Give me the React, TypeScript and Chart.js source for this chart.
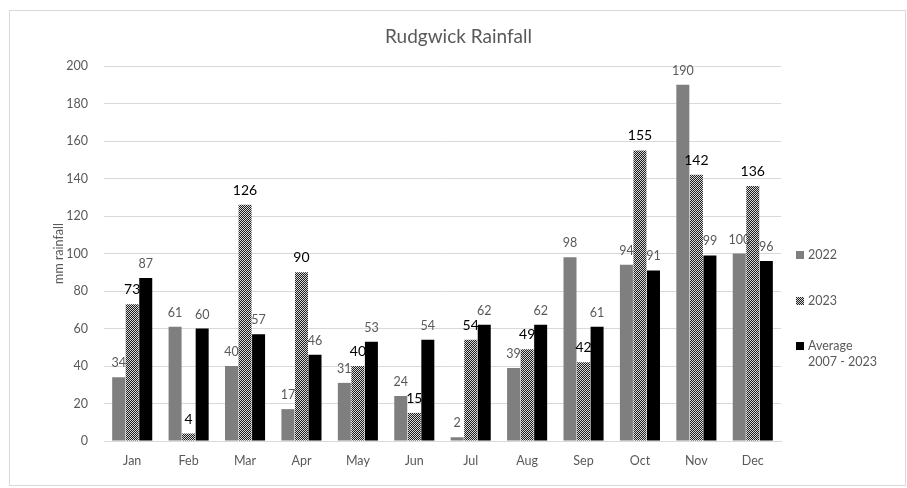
import React, { useEffect, useRef } from "react";
import { Chart, registerables } from "chart.js";

Chart.register(...registerables);

const months = ["Jan", "Feb", "Mar", "Apr", "May", "Jun", "Jul", "Aug", "Sep", "Oct", "Nov", "Dec"];
const rain2022 = [34, 61, 40, 17, 31, 24, 2, 39, 98, 94, 190, 100];
const rain2023 = [73, 4, 126, 90, 40, 15, 54, 49, 42, 155, 142, 136];
const rainAvg = [87, 60, 57, 46, 53, 54, 62, 62, 61, 91, 99, 96];
const seriesLabels = ["2022", "2023", "Average 2007 - 2023"];
const legendLines = [["2022"], ["2023"], ["Average", "2007 - 2023"]];
const chartTitle = "Rudgwick Rainfall";

const FONT = "Lato, 'Open Sans', sans-serif";
const GRAY_TEXT = "#595959";

function makePattern(): CanvasPattern | string {
  const c = document.createElement("canvas");
  c.width = 2;
  c.height = 2;
  const ctx = c.getContext("2d");
  if (!ctx) return "#777";
  ctx.fillStyle = "#d8d8d8";
  ctx.fillRect(0, 0, 2, 2);
  ctx.fillStyle = "#1e1e1e";
  ctx.fillRect(0, 0, 1, 1);
  ctx.fillRect(1, 1, 1, 1);
  const p = ctx.createPattern(c, "repeat");
  return p || "#777";
}

const titlePlugin = {
  id: "centeredTitle",
  afterDraw(chart: any) {
    const ctx = chart.ctx;
    ctx.save();
    ctx.font = `19px ${FONT}`;
    ctx.fillStyle = GRAY_TEXT;
    ctx.textAlign = "center";
    ctx.textBaseline = "middle";
    ctx.fillText(chartTitle, chart.width / 2 + 1, 26);
    ctx.restore();
  },
};

const labelPlugin = {
  id: "barLabels",
  afterDatasetsDraw(chart: any) {
    const ctx = chart.ctx;
    ctx.save();
    ctx.textAlign = "center";
    ctx.textBaseline = "alphabetic";
    chart.data.datasets.forEach((ds: any, di: number) => {
      const meta = chart.getDatasetMeta(di);
      if (di === 1) {
        ctx.font = `14px ${FONT}`;
        ctx.fillStyle = "#000000";
      } else {
        ctx.font = `12.5px ${FONT}`;
        ctx.fillStyle = GRAY_TEXT;
      }
      meta.data.forEach((bar: any, i: number) => {
        ctx.fillText(String(ds.data[i]), bar.x, bar.y - 10);
      });
    });
    ctx.restore();
  },
};

const legendPlugin = {
  id: "sideLegend",
  afterDraw(chart: any) {
    const ctx = chart.ctx;
    const x = chart.chartArea.right + 15;
    const ys = [244, 290, 335];
    ctx.save();
    ctx.font = `12.5px ${FONT}`;
    ctx.textBaseline = "middle";
    ctx.textAlign = "left";
    chart.data.datasets.forEach((ds: any, di: number) => {
      const y = ys[di];
      ctx.fillStyle = ds.backgroundColor;
      ctx.fillRect(x, y - 4, 8, 8);
      ctx.fillStyle = GRAY_TEXT;
      legendLines[di].forEach((line, li) => {
        ctx.fillText(line, x + 12, y + li * 16);
      });
    });
    ctx.restore();
  },
};

export default function App() {
  const ref = useRef<HTMLCanvasElement | null>(null);

  useEffect(() => {
    document.body.style.margin = "0";
    if (!ref.current) return;
    const pattern = makePattern();
    const chart = new Chart(ref.current, {
      type: "bar",
      data: {
        labels: months,
        datasets: [
          { label: seriesLabels[0], data: rain2022, backgroundColor: "#7f7f7f", barPercentage: 0.96, categoryPercentage: 0.72 },
          { label: seriesLabels[1], data: rain2023, backgroundColor: pattern as any, barPercentage: 0.96, categoryPercentage: 0.72 },
          { label: seriesLabels[2], data: rainAvg, backgroundColor: "#000000", barPercentage: 0.96, categoryPercentage: 0.72 },
        ],
      },
      options: {
        animation: false,
        responsive: false,
        devicePixelRatio: 1,
        layout: { padding: { left: 0, right: 124, top: 55, bottom: 0 } },
        plugins: {
          legend: { display: false },
          tooltip: { enabled: false },
          title: { display: false },
        },
        scales: {
          x: {
            grid: { display: false, drawTicks: false },
            border: { color: "#d9d9d9" },
            ticks: { color: GRAY_TEXT, font: { family: FONT, size: 12.5 }, padding: 12 },
            afterFit(scale: any) {
              scale.height = 44;
            },
          },
          y: {
            min: 0,
            max: 200,
            ticks: { stepSize: 20, color: GRAY_TEXT, font: { family: FONT, size: 12.5 }, padding: 16 },
            grid: { color: "#d9d9d9", drawTicks: false },
            border: { display: false },
            title: {
              display: true,
              text: "mm rainfall",
              color: GRAY_TEXT,
              font: { family: FONT, size: 12.5 },
              padding: { top: 41, bottom: 0 },
            },
            afterFit(scale: any) {
              scale.width = 94;
            },
          },
        },
      },
      plugins: [labelPlugin, legendPlugin, titlePlugin],
    });
    return () => chart.destroy();
  }, []);

  return (
    <div style={{ position: "relative", width: 907, height: 488, background: "#fff", overflow: "hidden" }}>
      <div
        style={{
          position: "absolute",
          left: 9,
          top: 10,
          width: 895,
          height: 474,
          border: "1px solid #d9d9d9",
          background: "#fff",
        }}
      >
        <canvas ref={ref} width={895} height={474} style={{ display: "block", width: 895, height: 474 }} />
      </div>
    </div>
  );
}
